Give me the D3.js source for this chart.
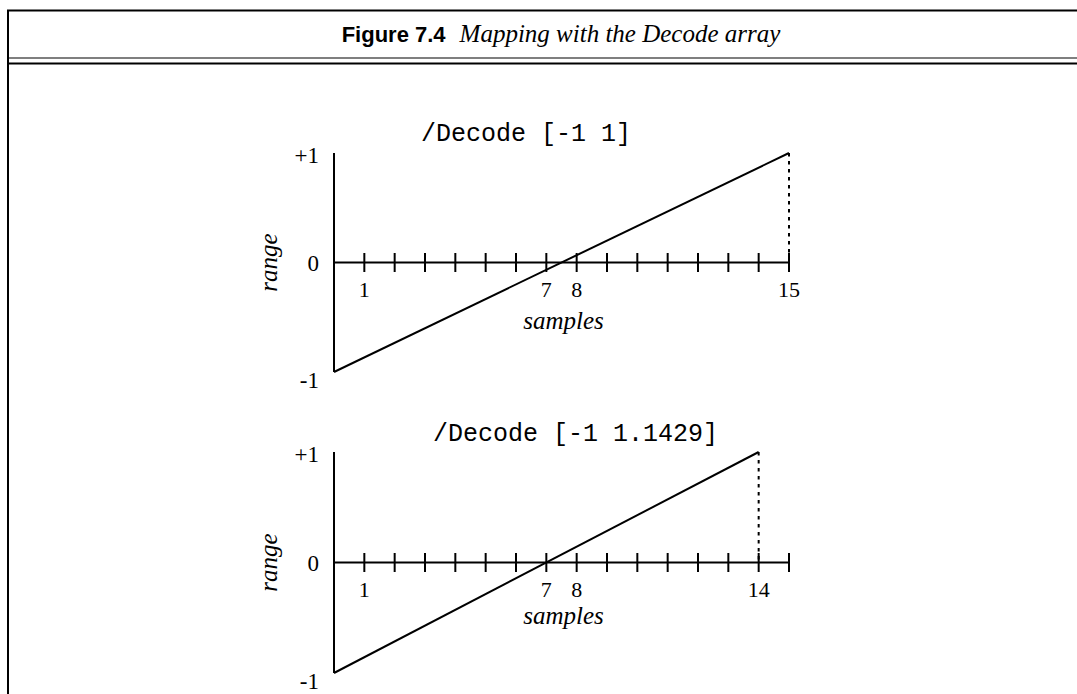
<!DOCTYPE html>
<html>
<head>
<meta charset="utf-8">
<script src="https://cdn.jsdelivr.net/npm/d3@7"></script>
<style>
  html, body { margin: 0; padding: 0; background: #fff; }
  svg { display: block; }
</style>
</head>
<body>
<svg id="chart" width="1077" height="694"></svg>
<script>
// ---------- data ----------
const figureNumber = "Figure 7.4";
const figureCaption = "Mapping with the Decode array";
const panelTitles = ["/Decode [-1 1]", "/Decode [-1 1.1429]"];
const sampleTicks = [1, 2, 3, 4, 5, 6, 7, 8, 9, 10, 11, 12, 13, 14, 15];
const labeledTicksTop = [1, 7, 8, 15];
const labeledTicksBottom = [1, 7, 8, 14];
const rangeValues = [1, 0, -1];
const rangeLabels = ["+1", "0", "-1"];
const rampTop = [{ s: 0, v: -1 }, { s: 15, v: 1 }];
const rampBottom = [{ s: 0, v: -1 }, { s: 14, v: 1 }];
const sampleDomain = [0, 15];
const rangeDomain = [-1, 1];

// ---------- drawing ----------
const svg = d3.select("#chart");
const W = 1077, H = 694;
svg.append("rect").attr("width", W).attr("height", H).attr("fill", "#fff");

// frame
const frame = svg.append("g").attr("stroke", "#000").attr("fill", "none");
frame.append("line").attr("x1", 8).attr("x2", 8).attr("y1", 10).attr("y2", H).attr("stroke-width", 2);
frame.append("line").attr("x1", 7).attr("x2", W).attr("y1", 10.5).attr("y2", 10.5).attr("stroke-width", 2);
frame.append("line").attr("x1", 8).attr("x2", W).attr("y1", 58).attr("y2", 58).attr("stroke-width", 1.2);
frame.append("line").attr("x1", 8).attr("x2", W).attr("y1", 63.5).attr("y2", 63.5).attr("stroke-width", 2);

// figure heading
const head = svg.append("text").attr("x", 561).attr("y", 42).attr("text-anchor", "middle").attr("fill", "#000");
head.append("tspan").attr("font-family", "'Liberation Sans', Arial, sans-serif").attr("font-weight", "bold")
  .attr("font-size", 22).text(figureNumber);
head.append("tspan").attr("font-family", "'Liberation Serif', 'Times New Roman', serif").attr("font-style", "italic")
  .attr("font-size", 25).attr("dx", 14).text(figureCaption);

const x = d3.scaleLinear().domain(sampleDomain).range([334, 789]);

const panels = [
  { title: panelTitles[0], titleX: 526, ramp: rampTop, labeled: labeledTicksTop, yRange: [372, 153], samplesY: 329 },
  { title: panelTitles[1], titleX: 575.5, ramp: rampBottom, labeled: labeledTicksBottom, yRange: [673, 452], samplesY: 624 }
];

const serif = "'Liberation Serif', 'Times New Roman', serif";

panels.forEach(p => {
  const y = d3.scaleLinear().domain(rangeDomain).range(p.yRange);
  const g = svg.append("g");
  const y0 = y(0);

  // panel title
  g.append("text").attr("x", p.titleX).attr("y", y0 - 121.5).attr("text-anchor", "middle")
    .attr("font-family", "'Liberation Mono', 'Courier New', monospace").attr("font-size", 25)
    .attr("fill", "#000").text(p.title);

  // y axis line
  g.append("line").attr("x1", x(0)).attr("x2", x(0)).attr("y1", y(1)).attr("y2", y(-1))
    .attr("stroke", "#000").attr("stroke-width", 2);

  // x axis line
  g.append("line").attr("x1", x(0)).attr("x2", x(sampleDomain[1])).attr("y1", y0).attr("y2", y0)
    .attr("stroke", "#000").attr("stroke-width", 2);

  // ticks (both sides)
  g.selectAll("line.tick").data(sampleTicks).join("line").attr("class", "tick")
    .attr("x1", d => x(d)).attr("x2", d => x(d)).attr("y1", y0 - 9.5).attr("y2", y0 + 9.5)
    .attr("stroke", "#000").attr("stroke-width", 2);

  // tick labels
  g.selectAll("text.tl").data(p.labeled).join("text").attr("class", "tl")
    .attr("x", d => x(d)).attr("y", y0 + 34.5).attr("text-anchor", "middle")
    .attr("font-family", serif).attr("font-size", 22).attr("fill", "#000").text(d => d);

  // range labels
  g.selectAll("text.rl").data(rangeValues).join("text").attr("class", "rl")
    .attr("x", 319).attr("y", d => y(d) + (d < 0 ? 15.5 : (d > 0 ? 9.5 : 8.5)))
    .attr("text-anchor", "end").attr("font-family", serif).attr("font-size", 23).attr("fill", "#000")
    .text((d, i) => rangeLabels[i]);

  // axis titles
  g.append("text").attr("transform", `translate(277,${y0}) rotate(-90)`).attr("text-anchor", "middle")
    .attr("font-family", serif).attr("font-style", "italic").attr("font-size", 25).attr("fill", "#000").text("range");
  g.append("text").attr("x", 563.5).attr("y", p.samplesY).attr("text-anchor", "middle")
    .attr("font-family", serif).attr("font-style", "italic").attr("font-size", 25).attr("fill", "#000").text("samples");

  // ramp
  const line = d3.line().x(d => x(d.s)).y(d => y(d.v));
  g.append("path").datum(p.ramp).attr("d", line).attr("fill", "none").attr("stroke", "#000").attr("stroke-width", 2);

  // dotted drop line from ramp end
  const end = p.ramp[p.ramp.length - 1];
  g.append("line").attr("x1", x(end.s)).attr("x2", x(end.s)).attr("y1", y(end.v)).attr("y2", y0)
    .attr("stroke", "#000").attr("stroke-width", 2).attr("stroke-dasharray", "3.5,4.5");
});
</script>
</body>
</html>
